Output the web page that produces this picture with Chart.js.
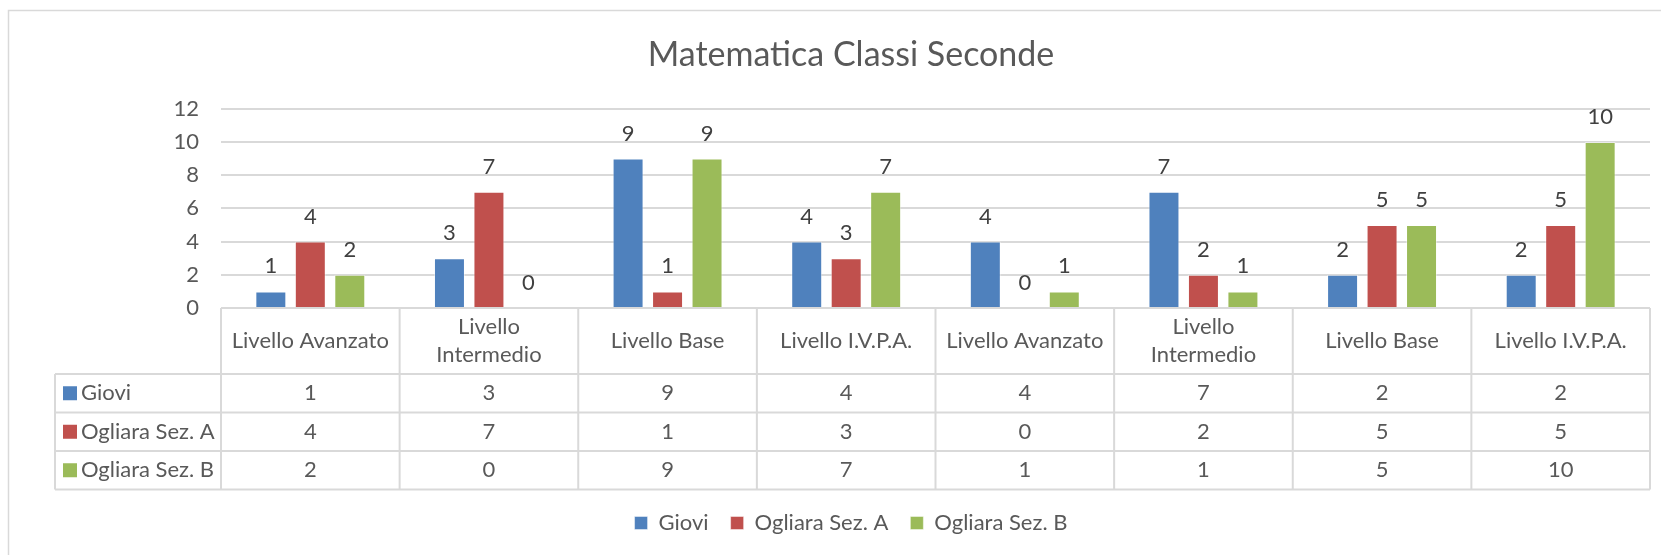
<!DOCTYPE html>
<html>
<head>
<meta charset="utf-8">
<script src="https://cdn.jsdelivr.net/npm/chart.js@4.4.1/dist/chart.umd.min.js"></script>
<style>
  html, body { margin: 0; padding: 0; background: #ffffff; }
  #wrap { width: 1661px; height: 555px; }
</style>
</head>
<body>
<div id="wrap"><canvas id="chart" width="1661" height="555"></canvas></div>
<script>
const categories = ['Livello Avanzato', 'Livello Intermedio', 'Livello Base', 'Livello I.V.P.A.', 'Livello Avanzato', 'Livello Intermedio', 'Livello Base', 'Livello I.V.P.A.'];
const seriesNames = ['Giovi', 'Ogliara Sez. A', 'Ogliara Sez. B'];
const giovi = [1, 3, 9, 4, 4, 7, 2, 2];
const ogliaraA = [4, 7, 1, 3, 0, 2, 5, 5];
const ogliaraB = [2, 0, 9, 7, 1, 1, 5, 10];
const seriesColors = ['#4F81BD', '#C0504D', '#9BBB59'];
const yMin = 0;
const yMax = 12;
const yStep = 2;

const FONT = 'Lato';
const TEXT = '#595959';
const LINE = '#d9d9d9';

Chart.defaults.font.family = FONT;
Chart.defaults.color = TEXT;

const frame = {
  id: 'frame',
  beforeDraw(chart) {
    const ctx = chart.ctx;
    ctx.save();
    ctx.fillStyle = '#ffffff';
    ctx.fillRect(0, 0, chart.width, chart.height);
    ctx.strokeStyle = LINE;
    ctx.lineWidth = 1.5;
    ctx.strokeRect(8.5, 10.5, chart.width + 50, chart.height + 50);
    ctx.restore();
  },
};

const valueLabels = {
  id: 'valueLabels',
  afterDatasetsDraw(chart) {
    const ctx = chart.ctx;
    ctx.save();
    ctx.font = `22px ${FONT}`;
    ctx.fillStyle = '#404040';
    ctx.textAlign = 'center';
    ctx.textBaseline = 'middle';
    chart.data.datasets.forEach((ds, i) => {
      chart.getDatasetMeta(i).data.forEach((bar, j) => {
        ctx.fillText(String(ds.data[j]), bar.x, bar.y - 25);
      });
    });
    ctx.restore();
  },
};

function wrapWords(ctx, text, maxWidth) {
  const words = text.split(' ');
  const lines = [];
  let line = '';
  words.forEach((w) => {
    const test = line ? `${line} ${w}` : w;
    if (ctx.measureText(test).width > maxWidth && line) {
      lines.push(line);
      line = w;
    } else {
      line = test;
    }
  });
  lines.push(line);
  return lines;
}

const dataTable = {
  id: 'dataTable',
  afterDraw(chart) {
    const ctx = chart.ctx;
    const x = chart.scales.x;
    const n = chart.data.labels.length;
    const cellW = x.width / n;
    const left = x.left;
    const right = x.right;
    const top = chart.chartArea.bottom;
    const headerH = 66;
    const rowH = 38.5;
    const tableLeft = left - 166;
    const rowsTop = top + headerH;
    const bottom = rowsTop + rowH * chart.data.datasets.length;

    ctx.save();
    ctx.strokeStyle = LINE;
    ctx.lineWidth = 2;
    ctx.beginPath();
    for (let i = 0; i <= n; i++) {
      const px = left + i * cellW;
      ctx.moveTo(px, top);
      ctx.lineTo(px, bottom);
    }
    ctx.moveTo(tableLeft, rowsTop);
    ctx.lineTo(tableLeft, bottom);
    for (let r = 0; r <= chart.data.datasets.length; r++) {
      const py = rowsTop + r * rowH;
      ctx.moveTo(tableLeft, py);
      ctx.lineTo(right, py);
    }
    ctx.stroke();

    ctx.font = `22px ${FONT}`;
    ctx.fillStyle = TEXT;
    ctx.textAlign = 'center';
    ctx.textBaseline = 'middle';
    chart.data.labels.forEach((label, i) => {
      const cx = left + (i + 0.5) * cellW;
      const lines = wrapWords(ctx, label, cellW - 16);
      const lh = 28;
      const y0 = top + headerH / 2 - ((lines.length - 1) * lh) / 2;
      lines.forEach((ln, k) => ctx.fillText(ln, cx, y0 + k * lh));
    });

    chart.data.datasets.forEach((ds, r) => {
      const cy = rowsTop + (r + 0.5) * rowH;
      ctx.fillStyle = ds.backgroundColor;
      ctx.fillRect(tableLeft + 8, cy - 7, 14, 14);
      ctx.fillStyle = TEXT;
      ctx.textAlign = 'left';
      ctx.fillText(ds.label, tableLeft + 26, cy);
      ctx.textAlign = 'center';
      ds.data.forEach((v, i) => {
        ctx.fillText(String(v), left + (i + 0.5) * cellW, cy);
      });
    });
    ctx.restore();
  },
};

new Chart(document.getElementById('chart'), {
  type: 'bar',
  data: {
    labels: categories,
    datasets: [
      { label: seriesNames[0], data: giovi, backgroundColor: seriesColors[0] },
      { label: seriesNames[1], data: ogliaraA, backgroundColor: seriesColors[1] },
      { label: seriesNames[2], data: ogliaraB, backgroundColor: seriesColors[2] },
    ],
  },
  options: {
    responsive: false,
    animation: false,
    devicePixelRatio: 1,
    layout: { padding: { top: 0, left: 52, right: 11, bottom: 11 } },
    datasets: {
      bar: {
        categoryPercentage: 0.663,
        barPercentage: 0.785,
        borderColor: 'rgba(255,255,255,0.45)',
        borderWidth: 1,
      },
    },
    scales: {
      x: {
        grid: { display: false },
        border: { display: false },
        ticks: { display: false },
        afterFit: (scale) => { scale.height = 182; },
      },
      y: {
        min: yMin,
        max: yMax,
        ticks: { stepSize: yStep, padding: 22, color: TEXT, font: { size: 22 } },
        grid: { color: LINE, lineWidth: 2, drawTicks: false },
        border: { display: false },
        afterFit: (scale) => { scale.width = 169; },
      },
    },
    plugins: {
      title: {
        display: true,
        text: 'Matematica Classi Seconde',
        color: TEXT,
        font: { size: 34, weight: 'normal' },
        padding: { top: 35, bottom: 33 },
      },
      legend: {
        position: 'bottom',
        labels: {
          boxWidth: 13,
          boxHeight: 13,
          padding: 22,
          color: TEXT,
          font: { size: 22 },
        },
      },
      tooltip: { enabled: false },
    },
  },
  plugins: [frame, valueLabels, dataTable],
});
</script>
</body>
</html>
